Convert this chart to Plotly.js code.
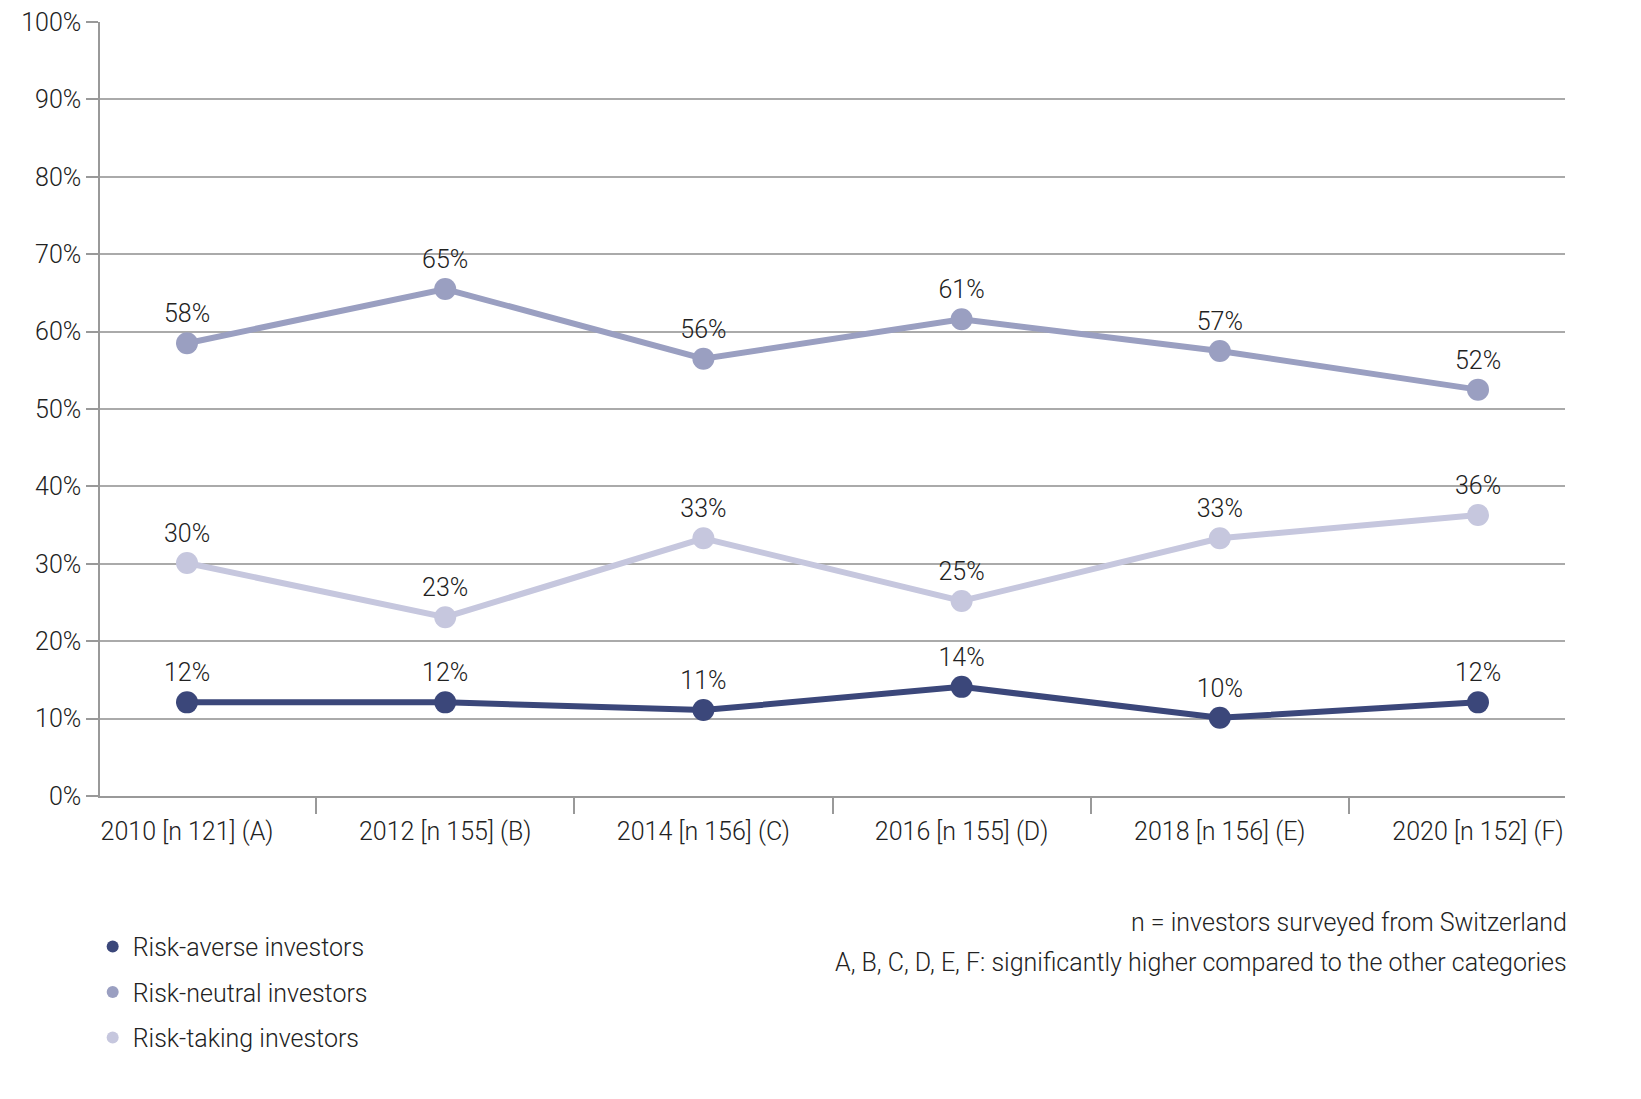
<!DOCTYPE html>
<html>
<head>
<meta charset="utf-8">
<script src="https://cdn.plot.ly/plotly-3.0.1.min.js"></script>
<style>html,body{margin:0;padding:0;background:#fff}</style>
</head>
<body>
<div id="chart" style="width:1641px;height:1099px"></div>
<script>
const categories = ['2010 [n 121] (A)', '2012 [n 155] (B)', '2014 [n 156] (C)', '2016 [n 155] (D)', '2018 [n 156] (E)', '2020 [n 152] (F)'];
const averse = [12.1, 12.1, 11.1, 14.1, 10.1, 12.1];
const averseLabels = ['12%', '12%', '11%', '14%', '10%', '12%'];
const neutral = [58.5, 65.5, 56.5, 61.6, 57.5, 52.5];
const neutralLabels = ['58%', '65%', '56%', '61%', '57%', '52%'];
const taking = [30.1, 23.1, 33.3, 25.2, 33.3, 36.3];
const takingLabels = ['30%', '23%', '33%', '25%', '33%', '36%'];

const font = {family: 'Roboto, Liberation Sans, sans-serif', size: 25, color: '#222', weight: 300};

makeTrace = (name, y, labels, color) => ({
  x: categories,
  y: y,
  name: name,
  text: labels,
  mode: 'lines+markers+text',
  textposition: 'top center',
  textfont: font,
  cliponaxis: false,
  type: 'scatter',
  showlegend: false,
  line: {color: color, width: 6},
  marker: {color: color, size: 22}
});

// marker-only entries for the legend
makeLegend = (name, color) => ({
  x: [null], y: [null], name: name, mode: 'markers', type: 'scatter',
  legendgroup: name, marker: {color: color, size: 26}
});

const colors = ['#3b477a', '#9a9fc1', '#c6c7de'];
const traces = [
  makeTrace('Risk-averse investors', averse, averseLabels, colors[0]),
  makeTrace('Risk-neutral investors', neutral, neutralLabels, colors[1]),
  makeTrace('Risk-taking investors', taking, takingLabels, colors[2]),
  makeLegend('Risk-averse investors', colors[0]),
  makeLegend('Risk-neutral investors', colors[1]),
  makeLegend('Risk-taking investors', colors[2])
];

const layout = {
  width: 1641,
  height: 1099,
  margin: {l: 100, r: 76, t: 22, b: 303},
  font: font,
  showlegend: true,
  legend: {x: -0.005, xanchor: 'left', y: -0.165, yanchor: 'top', orientation: 'v',
           font: font, tracegroupgap: 10, itemsizing: 'constant'},
  xaxis: {
    type: 'category',
    tickson: 'boundaries',
    ticks: 'outside', ticklen: 16, tickcolor: '#999', tickwidth: 1.5,
    ticklabelstandoff: 12,
    showgrid: false, showline: true, linecolor: '#999', linewidth: 1.5,
    tickfont: font
  },
  yaxis: {
    range: [0, 100], dtick: 10, ticksuffix: '%',
    ticks: 'outside', ticklen: 12, tickcolor: '#999', tickwidth: 1.5,
    showline: true, linecolor: '#999', linewidth: 1.5,
    gridcolor: '#aaa', gridwidth: 1.5, zeroline: false,
    tickfont: font
  },
  annotations: [
    {text: 'n = investors surveyed from Switzerland', xref: 'paper', yref: 'paper',
     x: 1.003, y: -0.185, xanchor: 'right', showarrow: false, font: font},
    {text: 'A, B, C, D, E, F: significantly higher compared to the other categories', xref: 'paper', yref: 'paper',
     x: 1.003, y: -0.237, xanchor: 'right', showarrow: false, font: font}
  ]
};

Plotly.newPlot('chart', traces, layout, {displayModeBar: false});
</script>
</body>
</html>
